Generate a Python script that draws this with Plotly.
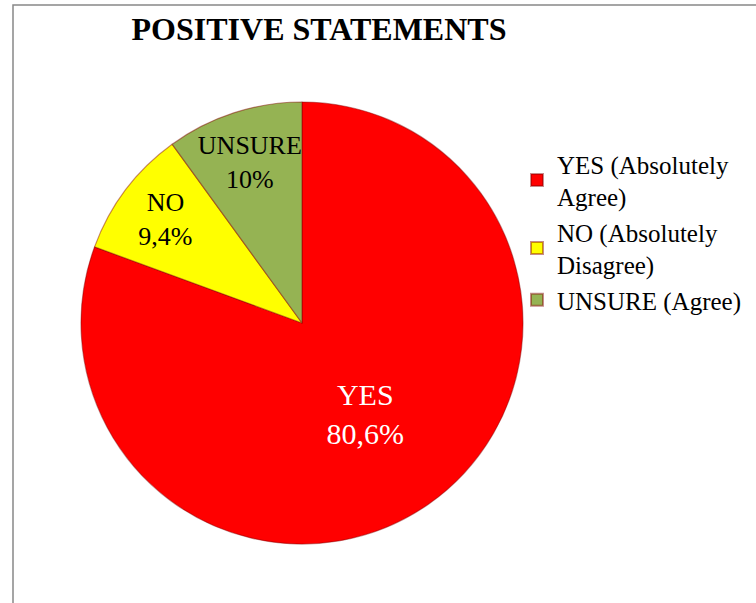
import plotly.graph_objects as go

categories = ["YES (Absolutely<br>Agree)", "NO (Absolutely<br>Disagree)", "UNSURE (Agree)"]
short_labels = ["YES", "NO", "UNSURE"]
values = [80.6, 9.4, 10.0]
value_text = ["80,6%", "9,4%", "10%"]
colors = ["#FF0000", "#FFFF00", "#95B353"]

W, H = 756, 603
cx, cy, r = 302, 323, 221

fig = go.Figure(go.Pie(
    labels=categories,
    values=values,
    text=[f"{a}<br>{b}" for a, b in zip(short_labels, value_text)],
    textinfo="text",
    textposition="inside",
    insidetextorientation="horizontal",
    sort=False,
    direction="clockwise",
    rotation=0,
    marker=dict(colors=colors, line=dict(color="rgba(130,0,0,0.45)", width=1.2)),
    textfont=dict(family="Liberation Serif", size=[30, 26, 26], color=["white", "black", "black"]),
    domain=dict(x=[(cx - r) / W, (cx + r) / W], y=[(H - cy - r) / H, (H - cy + r) / H]),
    hoverinfo="skip",
))

fig.update_layout(
    width=W, height=H,
    margin=dict(l=0, r=0, t=0, b=0),
    paper_bgcolor="white",
    uniformtext=dict(minsize=26, mode="show"),
    title=dict(text="<b>POSITIVE STATEMENTS</b>", x=319 / W, xanchor="center",
               y=1 - 29 / H, yanchor="middle",
               font=dict(family="Liberation Serif", size=32, color="black")),
    legend=dict(x=517 / W, y=1 - 141 / H, xanchor="left", yanchor="top",
                font=dict(family="Liberation Serif", size=25, color="black"),
                itemsizing="constant", tracegroupgap=0, bgcolor="rgba(0,0,0,0)"),
    shapes=[dict(type="rect", xref="paper", yref="paper",
                 x0=13 / W, x1=1.05, y0=-0.05, y1=1 - 5 / H,
                 line=dict(color="#888888", width=1.5), layer="below")],
)

fig.write_html("out.html", config={"displayModeBar": False},
               post_script="document.body.style.margin='0';")
